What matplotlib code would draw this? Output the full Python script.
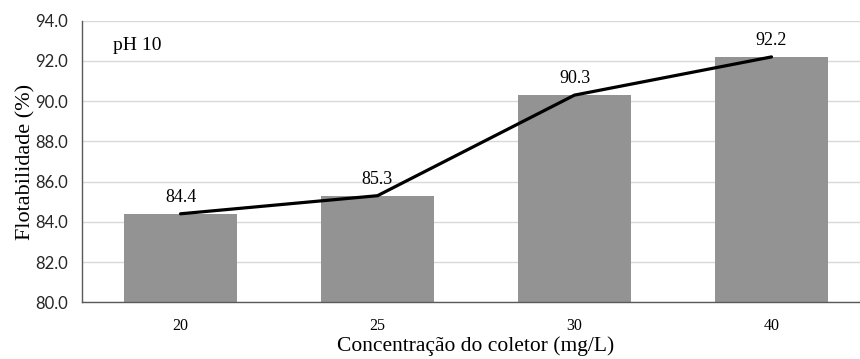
import matplotlib
matplotlib.use("Agg")
import matplotlib.pyplot as plt

concentracao = ["20", "25", "30", "40"]
flotabilidade = [84.4, 85.3, 90.3, 92.2]
yticks = [80.0, 82.0, 84.0, 86.0, 88.0, 90.0, 92.0, 94.0]

W, H = 860, 359
fig = plt.figure(figsize=(W / 100, H / 100), dpi=100)
left, right, top, bottom = 82, 870, 20.7, 302.3
ax = fig.add_axes([left / W, 1 - bottom / H, (right - left) / W, (bottom - top) / H])

x = list(range(len(concentracao)))
ax.bar(x, flotabilidade, width=0.575, color="#939393", zorder=2)
ax.plot(x, flotabilidade, color="black", lw=2.3, zorder=3, solid_capstyle="round")

for xi, v in zip(x, flotabilidade):
    ax.annotate(f"{v:.1f}", (xi, v), xytext=(0, 5.5), textcoords="offset points",
                ha="center", va="bottom", fontsize=13, family="Liberation Serif")

ax.set_xlim(-0.5, len(x) - 0.5)
ax.set_ylim(80, 94)
ax.set_yticks(yticks)
ax.set_yticklabels([f"{t:.1f}" for t in yticks], family="Lato", fontsize=12, color="#262626")
ax.set_xticks(x)
ax.set_xticklabels(concentracao, family="Liberation Serif", fontsize=11.5)
ax.tick_params(axis="both", length=0)
ax.tick_params(axis="x", pad=11)
ax.tick_params(axis="y", pad=10)

ax.yaxis.grid(True, color="#d9d9d9", lw=1, zorder=0)
for s in ["top", "right"]:
    ax.spines[s].set_visible(False)
for s in ["left", "bottom"]:
    ax.spines[s].set_color("#595959")
    ax.spines[s].set_linewidth(1.0)

ax.set_ylabel("Flotabilidade (%)", family="Liberation Serif", fontsize=16, labelpad=0)
ax.set_xlabel("Concentração do coletor (mg/L)", family="Liberation Serif", fontsize=15.5, labelpad=2)
ax.text(113 / W, 1 - 45 / H, "pH 10", transform=fig.transFigure, family="Liberation Serif",
        fontsize=14, ha="left", va="center")

fig.savefig("out.png", dpi=100)
